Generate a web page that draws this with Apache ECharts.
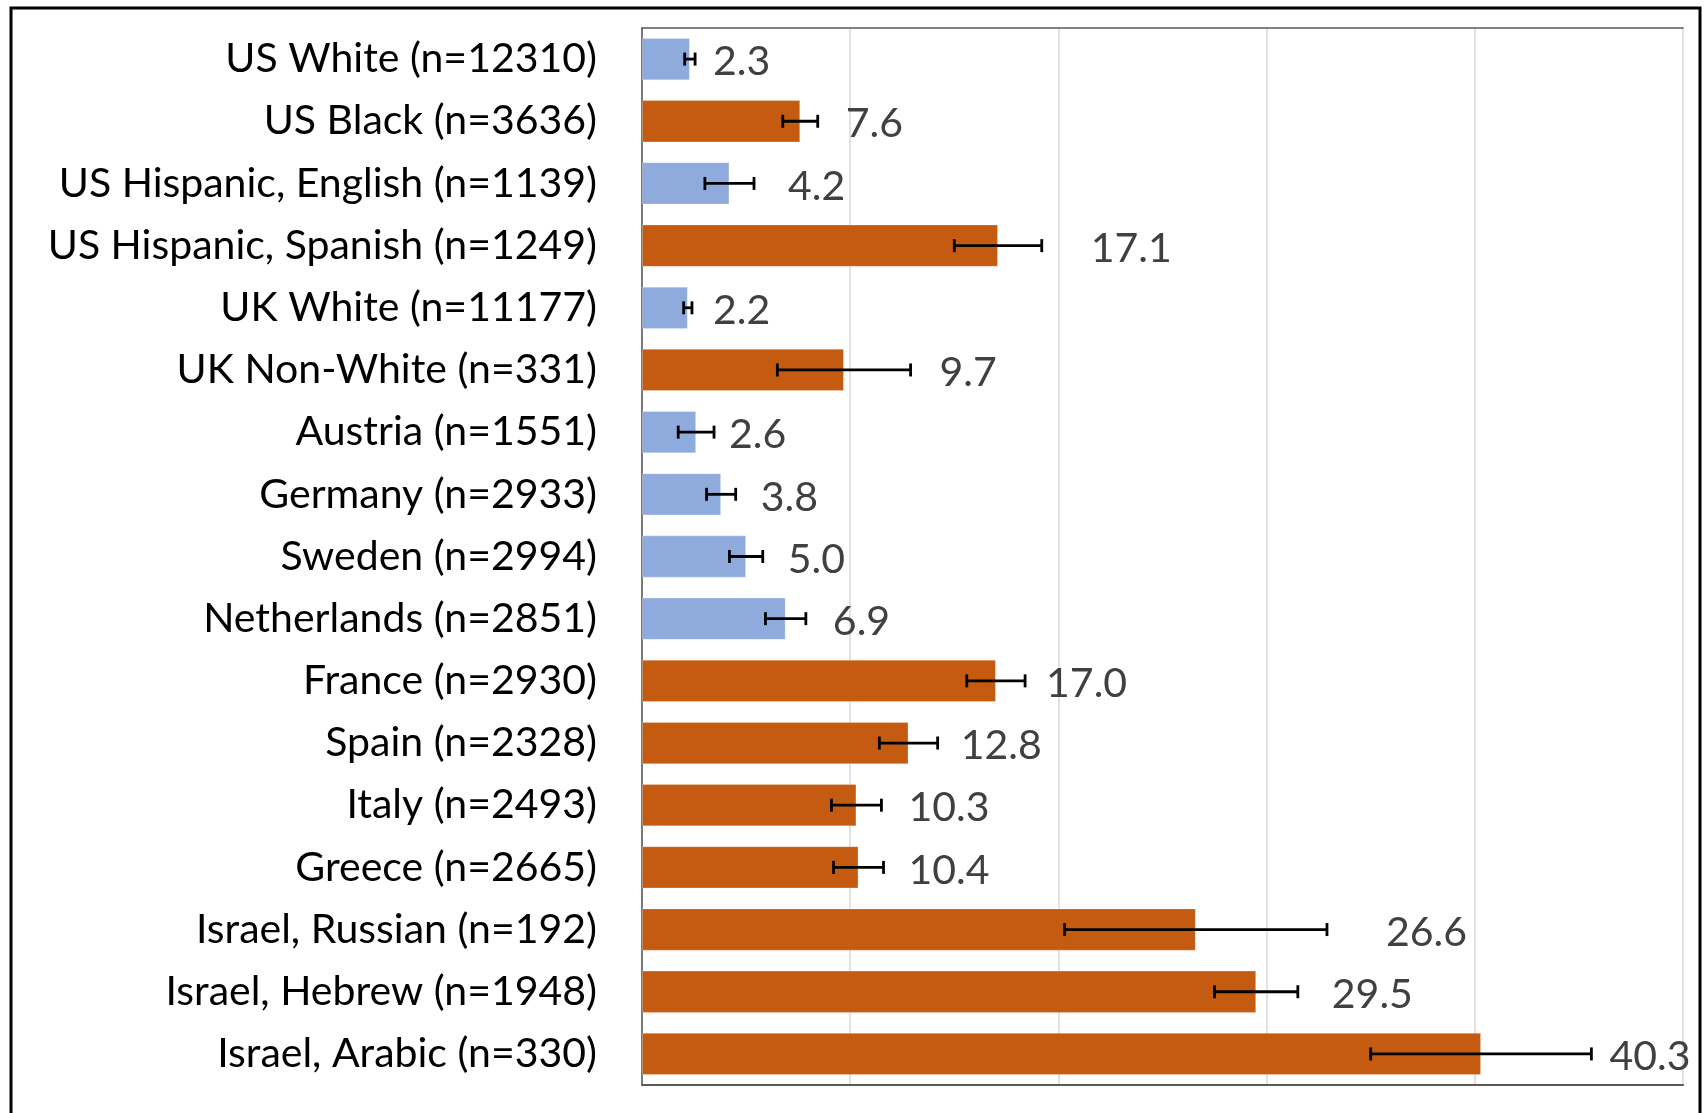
<!DOCTYPE html>
<html><head><meta charset="utf-8">
<script src="https://cdn.jsdelivr.net/npm/echarts@6/dist/echarts.min.js"></script>
<style>html,body{margin:0;padding:0;background:#fff}#c{width:1706px;height:1113px}</style>
</head><body><div id="c"></div>
<script>
const categories = ["US White (n=12310)","US Black (n=3636)","US Hispanic, English (n=1139)","US Hispanic, Spanish (n=1249)","UK White (n=11177)","UK Non-White (n=331)","Austria (n=1551)","Germany (n=2933)","Sweden (n=2994)","Netherlands (n=2851)","France (n=2930)","Spain (n=2328)","Italy (n=2493)","Greece (n=2665)","Israel, Russian (n=192)","Israel, Hebrew (n=1948)","Israel, Arabic (n=330)"];
const values = [2.3,7.6,4.2,17.1,2.2,9.7,2.6,3.8,5.0,6.9,17.0,12.8,10.3,10.4,26.6,29.5,40.3];
const errors = [0.25,0.84,1.18,2.1,0.2,3.2,0.86,0.7,0.8,0.97,1.4,1.4,1.2,1.2,6.3,2.0,5.3];
const highlighted = [0,1,0,1,0,1,0,0,0,0,1,1,1,1,1,1,1];
// layout only: extra pixel shift of each value label
const labelNudge = [-9,1,7,22,-6,2,-12,-2,-2,0,-6,-4,0,-2,32,7,-9];

const COLORS = ['#8FAADC', '#C55A11'];
const FONT = 'Lato';

const chart = echarts.init(document.getElementById('c'));
const barData = values.map((v, i) => ({value: v, itemStyle: {color: COLORS[highlighted[i]]}}));
const errData = values.map((v, i) => [i, v - errors[i], v + errors[i], v, labelNudge[i]]);

chart.setOption({
  animation: false,
  backgroundColor: '#fff',
  graphic: [{type: 'rect', shape: {x: 11, y: 8, width: 1689, height: 1130}, style: {fill: 'none', stroke: '#000', lineWidth: 3}, z: 100}],
  grid: {left: 642, top: 28, right: 23, bottom: 28},
  xAxis: [
    {type: 'value', min: 0, max: 50, interval: 10, position: 'bottom',
     axisLabel: {show: false}, axisTick: {show: false},
     axisLine: {show: true, lineStyle: {color: '#595959', width: 2}},
     splitLine: {show: true, lineStyle: {color: '#d9d9d9', width: 1.5}}},
    {type: 'value', min: 0, max: 50, position: 'top',
     axisLabel: {show: false}, axisTick: {show: false}, splitLine: {show: false},
     axisLine: {show: true, lineStyle: {color: '#595959', width: 1.5}}}
  ],
  yAxis: [
    {type: 'category', data: categories, inverse: true, position: 'left',
     axisTick: {show: false},
     axisLine: {show: true, lineStyle: {color: '#d9d9d9', width: 1.5}},
     axisLabel: {margin: 45, fontFamily: FONT, fontSize: 41, color: '#000'}},
    {type: 'category', data: categories, inverse: true, position: 'right',
     axisTick: {show: false}, axisLabel: {show: false},
     axisLine: {show: true, lineStyle: {color: '#595959', width: 1.5}}}
  ],
  series: [
    {type: 'bar', data: barData, barWidth: '68%', xAxisIndex: 0, yAxisIndex: 0,
     itemStyle: {borderColor: 'rgba(255,255,255,0.25)', borderWidth: 1}},
    {type: 'custom', data: errData, xAxisIndex: 0, yAxisIndex: 0, clip: false, z: 5,
     encode: {y: 0, x: [1, 2]},
     renderItem: function (params, api) {
       const i = api.value(0);
       const lo = api.coord([api.value(1), i]);
       const hi = api.coord([api.value(2), i]);
       const cy = lo[1];
       const h = 6.5;
       const ls = {stroke: '#000', lineWidth: 2.8};
       return {type: 'group', children: [
         {type: 'line', shape: {x1: lo[0], y1: cy, x2: hi[0], y2: cy}, style: ls},
         {type: 'line', shape: {x1: lo[0], y1: cy - h, x2: lo[0], y2: cy + h}, style: ls},
         {type: 'line', shape: {x1: hi[0], y1: cy - h, x2: hi[0], y2: cy + h}, style: ls},
         {type: 'text', x: hi[0] + 27 + api.value(4), y: cy + 3,
          style: {text: api.value(3).toFixed(1), fill: '#404040', font: '41px ' + FONT, verticalAlign: 'middle', align: 'left'}}
       ]};
     }}
  ]
});
</script></body></html>
